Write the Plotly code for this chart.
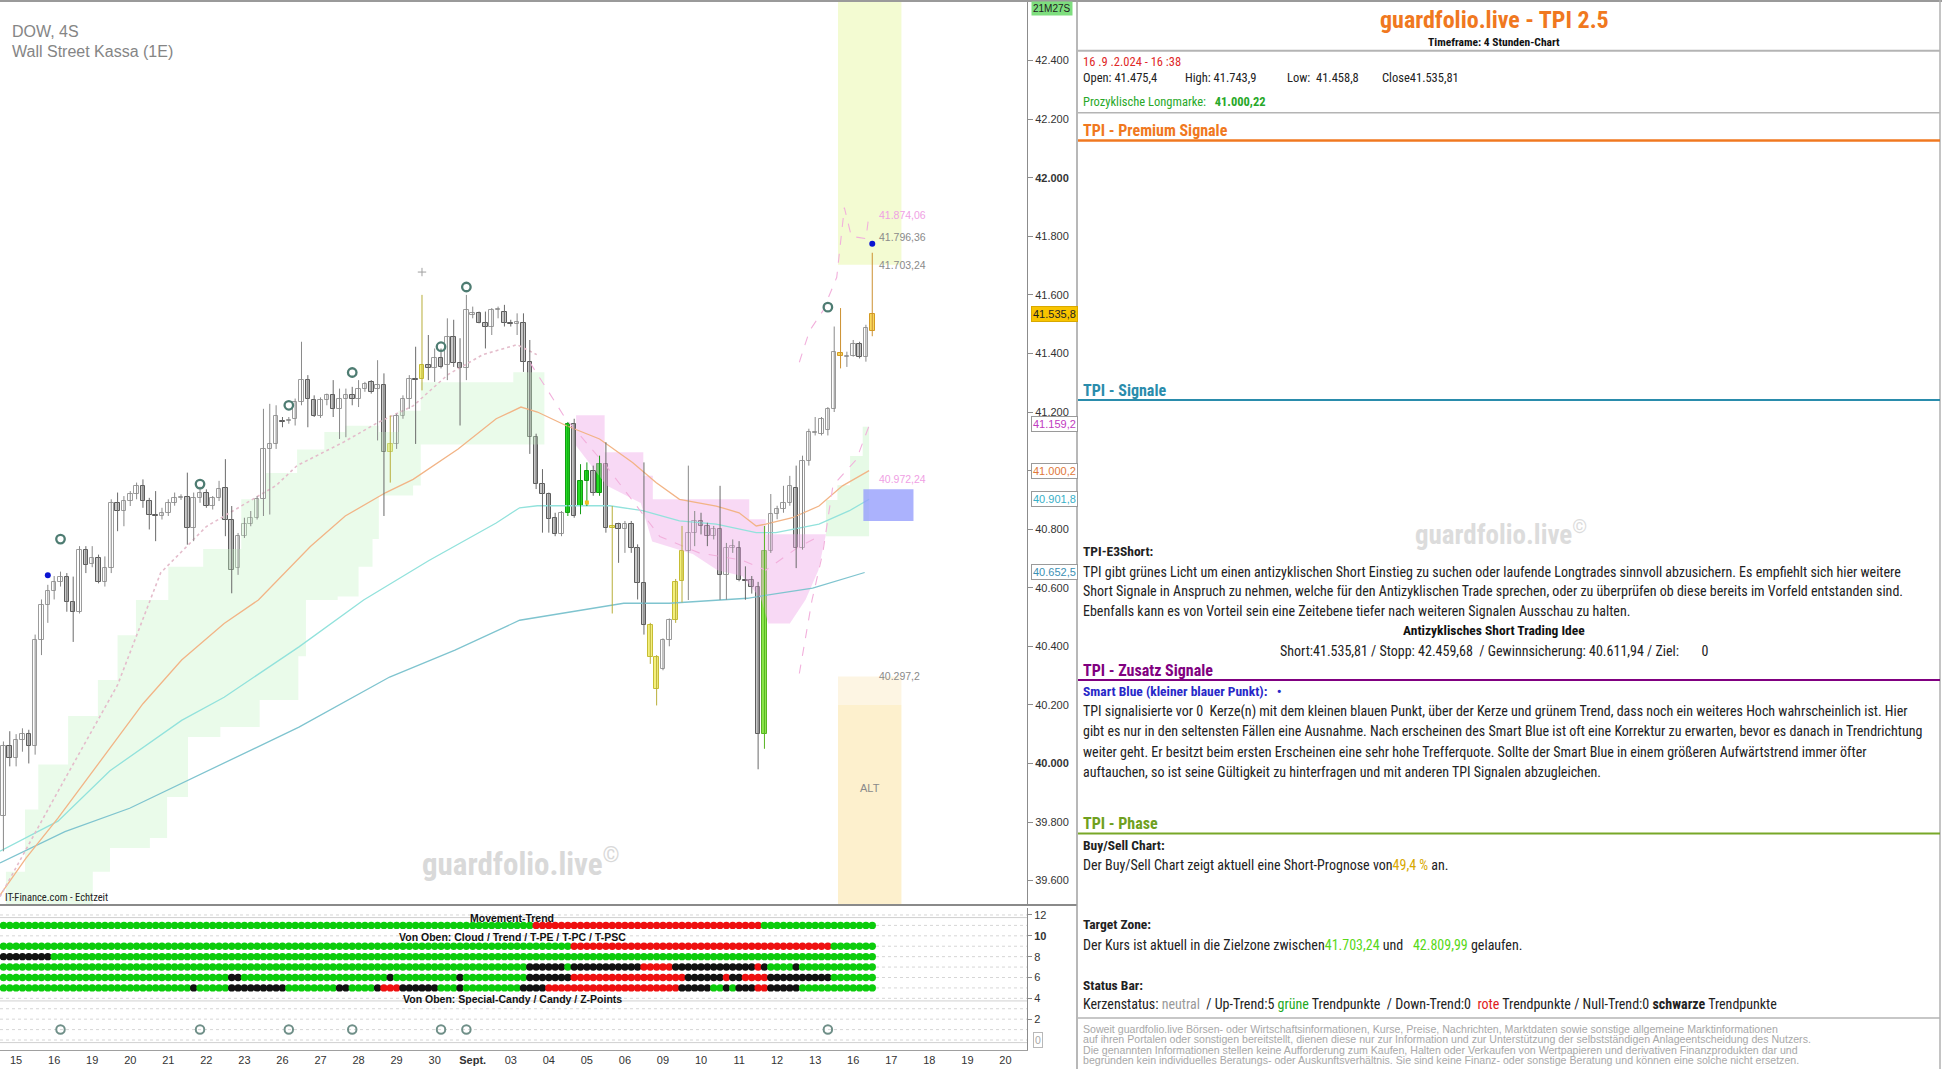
import plotly.graph_objects as go

W, H = 1942, 1069

# ---------------- data ----------------
day_labels = ["15", "16", "19", "20", "21", "22", "23", "26", "27", "28", "29", "30", "Sept.",
              "03", "04", "05", "06", "09", "10", "11", "12", "13", "16", "17", "18", "19", "20"]
candles_per_day = 6
first_slot = -2  # two 4h candles of 14 Aug before the first labelled day

opens = [39820, 40060,
         40020, 40080, 40100, 40060, 40420, 40540,
         40590, 40621, 40638, 40553, 40518, 40730,
         40680, 40700, 40621, 40667, 40890, 40862,
         40896, 40919, 40948, 40896, 40850, 40845,
         40856, 40890, 40907, 40910, 40805, 40907,
         40925, 40879, 40907, 40942, 40833, 40667,
         40776, 40816, 40839, 40902, 41074, 41091,
         41171, 41171, 41177, 41234, 41309, 41240,
         41188, 41240, 41257, 41211, 41246, 41257,
         41246, 41280, 41303, 41280, 41291, 41062,
         41091, 41188, 41246, 41314, 41314, 41362,
         41349, 41383, 41360, 41457, 41366, 41349,
         41532, 41537, 41503, 41492, 41549, 41543,
         41503, 41500, 41503, 41372, 41114, 40954,
         40920, 40839, 40782, 40856, 41160, 40879,
         40965, 41000, 40925, 41022, 40805, 40816,
         40799, 40816, 40736, 40616, 40472, 40364,
         40324, 40421, 40489, 40622, 40725, 40788,
         40828, 40811, 40776, 40799, 40644, 40736,
         40736, 40627, 40627, 40604, 40100, 40725,
         40851, 40868, 40891, 40942, 40736, 41034,
         41128, 41126, 41140, 41211, 41400, 41389,
         41393, 41434, 41389, 41475.4]
highs = [40075, 40110,
         40100, 40120, 40115, 40440, 40560, 40610,
         40640, 40655, 40650, 40638, 40742, 40742,
         40742, 40713, 40707, 40902, 40925, 40913,
         40930, 40959, 40970, 40907, 40930, 40873,
         40902, 40925, 40919, 40993, 40925, 40945,
         40936, 40913, 40965, 41039, 40879, 40787,
         40839, 40862, 40913, 41211, 41228, 41223,
         41183, 41183, 41246, 41440, 41326, 41257,
         41250, 41263, 41309, 41280, 41280, 41286,
         41309, 41303, 41309, 41377, 41332, 41188,
         41194, 41257, 41326, 41423, 41600, 41463,
         41417, 41417, 41520, 41515, 41452, 41600,
         41560, 41543, 41543, 41555, 41560, 41566,
         41515, 41537, 41537, 41446, 41126, 41005,
         40925, 40856, 40862, 41166, 41177, 41022,
         41028, 41017, 41051, 41097, 40879, 40822,
         40828, 40828, 40748, 41028, 40480, 40370,
         40427, 40495, 40630, 40811, 41017, 40862,
         40856, 40822, 40811, 40948, 40753, 40765,
         40759, 40673, 40640, 40620, 40811, 40920,
         40880, 40948, 40982, 41017, 41051, 41143,
         41183, 41183, 41217, 41492, 41555, 41406,
         41446, 41440, 41498, 41743.9]
lows = [39700, 39990,
        39990, 40040, 40000, 40030, 40370, 40480,
        40560, 40604, 40518, 40415, 40512, 40650,
        40670, 40615, 40604, 40650, 40793, 40810,
        40879, 40902, 40873, 40799, 40759, 40833,
        40845, 40880, 40900, 40747, 40759, 40890,
        40873, 40867, 40896, 40776, 40581, 40644,
        40770, 40810, 40833, 40845, 40850, 41074,
        41148, 41160, 41154, 41223, 41148, 41183,
        41180, 41223, 41183, 41108, 41114, 41223,
        41217, 41269, 41263, 41103, 40845, 40959,
        41074, 41177, 41211, 41091, 41274, 41309,
        41303, 41349, 41309, 41354, 41154, 41309,
        41520, 41503, 41417, 41463, 41520, 41492,
        41492, 41463, 41337, 41057, 40937, 40788,
        40788, 40776, 40776, 40845, 40839, 40851,
        40879, 40914, 40914, 40788, 40512, 40685,
        40719, 40719, 40560, 40440, 40340, 40198,
        40318, 40400, 40480, 40550, 40558, 40742,
        40782, 40742, 40765, 40559, 40559, 40719,
        40622, 40559, 40580, 39980, 40050, 40719,
        40834, 40856, 40880, 40667, 40730, 41017,
        41120, 41120, 41120, 41200, 41349, 41354,
        41389, 41383, 41372, 41458.8]
closes = [40060, 40020,
          40080, 40100, 40060, 40420, 40540, 40590,
          40621, 40638, 40553, 40518, 40730, 40679,
          40700, 40621, 40667, 40890, 40862, 40896,
          40919, 40948, 40896, 40850, 40845, 40856,
          40890, 40907, 40910, 40805, 40907, 40925,
          40879, 40907, 40936, 40833, 40662, 40776,
          40816, 40839, 40902, 41074, 41091, 41188,
          41165, 41172, 41234, 41309, 41246, 41188,
          41240, 41257, 41211, 41246, 41257, 41246,
          41280, 41297, 41269, 41291, 41062, 41091,
          41188, 41246, 41314, 41309, 41362, 41349,
          41383, 41354, 41457, 41366, 41349, 41549,
          41537, 41503, 41492, 41549, 41550, 41503,
          41500, 41509, 41372, 41114, 40954, 40920,
          40834, 40782, 40856, 41160, 40845, 40965,
          41000, 40925, 41022, 40805, 40810, 40799,
          40816, 40736, 40616, 40472, 40364, 40255,
          40421, 40489, 40621, 40725, 40788, 40828,
          40811, 40776, 40799, 40644, 40736, 40742,
          40627, 40622, 40604, 40100, 40725, 40851,
          40868, 40891, 40948, 40736, 41034, 41131,
          41131, 41177, 41211, 41406, 41393, 41390,
          41434, 41389, 41486, 41535.81]

yellow_candles = [59, 64, 94, 100, 101, 104, 105]
orange_candles = [130, 135]
green_candles = [87, 89, 90, 92]
lime_candles = [118]

# indicator lines (slot, price)
ma_orange_slot = [-2.54, 1.56, 6.6, 12.9, 20.0, 26.1, 32.8, 38.2, 46.4, 51.9, 58.3, 62.6, 69.7, 75.7,
                  79.6, 82.2, 86.7, 92.0, 97.2, 100.9, 104.6, 110.4, 114.0, 116.7, 118.2, 122.4,
                  126.6, 130.3, 134.5]
ma_orange_val = [39550, 39677, 39813, 39997, 40204, 40353, 40478, 40558, 40741, 40845, 40925, 40970,
                 41074, 41177, 41217, 41200, 41154, 41108, 41028, 40959, 40902, 40879, 40856, 40811,
                 40817, 40839, 40879, 40948, 41000]
ma_cyan_slot = [-2.54, 6.6, 14.8, 26.1, 32.8, 44.6, 54.8, 65.1, 75.7, 79.4, 82.2, 86.7, 93.6, 98.8,
                104.6, 110.4, 116.7, 119.8, 126.6, 131.4, 134.5]
ma_cyan_val = [39700, 39803, 39975, 40147, 40226, 40398, 40558, 40693, 40821, 40873, 40880, 40880,
               40880, 40863, 40828, 40817, 40788, 40788, 40817, 40863, 40902]
ma_teal_slot = [-2.54, 7.7, 17.9, 33.4, 44.6, 58.9, 69.2, 79.4, 89.7, 95.8, 103.0, 110.2, 115.3,
                125.6, 133.8]
ma_teal_val = [39660, 39767, 39847, 40008, 40124, 40295, 40387, 40489, 40524, 40547, 40547, 40558,
               40564, 40599, 40652]
trail_slot = [-2.54, 7.2, 16.0, 22.8, 30.0, 41.0, 44.3, 51.7, 57.2, 62.6, 68.1, 73.6, 79.0, 82.1]
trail_val = [39545, 39928, 40268, 40651, 40809, 40949, 41017, 41098, 41166, 41221, 41328, 41396,
             41430, 41396]
band_mid_slot = [81.0, 86.6, 93.0, 101.5, 107.7, 114.5, 118.2, 123.5, 126.6]
band_mid_val = [41370, 41179, 41017, 40775, 40719, 40694, 40660, 40741, 40775]
band_up_slot = [123.5, 125.1, 127.2, 129.4, 130.6, 131.7, 134.0, 134.5]
band_up_val = [41370, 41477, 41545, 41660, 41898, 41800, 41792, 41877]
band_lo_slot = [123.5, 125.5, 127.2, 128.8, 132.5, 134.5]
band_lo_val = [40307, 40558, 40719, 40949, 41038, 41153]

cloud_g_up_slot = [-2.5, -1.6, 1.4, 3.5, 8.2, 12.9, 16.0, 18.9, 24.0, 29.5, 35.5, 39.4, 44.3, 48.6,
                   51.9, 57.2, 60.3, 63.8, 78.4, 83.3]
cloud_g_up_val = [39500, 39630, 39843, 39996, 40162, 40285, 40438, 40558, 40672, 40732, 40902, 40992,
                  41072, 41132, 41153, 41132, 41204, 41302, 41336, 41336]
cloud_g_lo_slot = [-2.5, 8.8, 12.1, 14.8, 21.1, 23.8, 27.1, 32.2, 38.4, 44.5, 45.7, 50.7, 54.0, 56.2,
                   57.2, 62.6, 63.8, 83.3]
cloud_g_lo_val = [39480, 39480, 39630, 39711, 39745, 39885, 40090, 40124, 40217, 40366, 40558, 40570,
                  40672, 40766, 40915, 40949, 41089, 41089]
cloud_p_up_slot = [88.3, 92.8, 98.3, 98.9, 100.4, 115.6, 118.2, 127.7]
cloud_p_up_val = [41189, 41063, 41063, 40982, 40902, 40834, 40783, 40783]
cloud_p_lo_slot = [88.3, 93.1, 98.5, 100.3, 106.7, 110.6, 114.5, 117.5, 118.6, 122.0, 124.5, 126.5, 127.7]
cloud_p_lo_val = [41085, 40949, 40889, 40758, 40715, 40660, 40640, 40560, 40478, 40478, 40560, 40660, 40783]
cloud_n_up_slot = [127.7, 129.5, 131.5, 133.5, 134.5]
cloud_n_up_val = [40900, 40950, 41050, 41150, 41177]
cloud_n_lo_slot = [127.7, 134.5]
cloud_n_lo_val = [40776, 40776]

zpoint_slots = [7, 29, 43, 53, 67, 71, 128]
zpoint_prices = [40766, 40954, 41223, 41335, 41423, 41627, 41558]
smart_blue_slots = [5, 135]
smart_blue_prices = [40643, 41775]
plus_slot, plus_price = [64], [41678]
small_dot_slot, small_dot_price = [90], [40891]

# target zones
zone_slot_start, zone_slot_end = 129.6, 139.6
zone_upper_low = 41703.24
zone_alt_top, zone_alt_split = 40297.2, 40200
box_slot_start, box_slot_end = 133.6, 141.5
box_low, box_high = 40828, 40936
chart_labels = [(41874.06, "41.874,06", "#f0a0e4"), (41796.36, "41.796,36", "#8a8a8a"),
                (41703.24, "41.703,24", "#8a8a8a"), (40972.24, "40.972,24", "#f0a0e4"),
                (40297.2, "40.297,2", "#8a8a8a")]
axis_labels = [(41535.8, "41.535,8", "#f8c400", "#222222", "#d8a800"),
               (41159.2, "41.159,2", "#ffffff", "#c03cc0", "#9a9a9a"),
               (41000.2, "41.000,2", "#ffffff", "#e07838", "#9a9a9a"),
               (40901.8, "40.901,8", "#ffffff", "#38b0c8", "#9a9a9a"),
               (40652.5, "40.652,5", "#ffffff", "#3c90b4", "#9a9a9a")]

price_ticks = [39600, 39800, 40000, 40200, 40400, 40600, 40800, 41000, 41200, 41400, 41600, 41800,
               42000, 42200, 42400]
# 41.000 is hidden under the 41.000,2 marker box in the original
price_tick_text = ["39.600", "39.800", "<b>40.000</b>", "40.200", "40.400", "40.600", "40.800",
                   "", "41.200", "41.400", "41.600", "41.800", "<b>42.000</b>", "42.200", "42.400"]

# status-bar rows (run lengths of colours per candle, g=green r=red k=black)
row_levels = [11, 9, 8, 7, 6, 5]
row_runs = [
    [("g", 84), ("r", 36), ("g", 18)],
    [("g", 90), ("r", 41), ("g", 7)],
    [("k", 8), ("g", 130)],
    [("g", 83), ("k", 6), ("g", 1), ("k", 11), ("r", 5), ("k", 13), ("r", 1), ("k", 1), ("g", 4),
     ("k", 1), ("g", 12)],
    [("g", 36), ("k", 2), ("g", 23), ("k", 1), ("g", 10), ("k", 1), ("g", 10), ("k", 7), ("r", 18),
     ("k", 6), ("r", 1), ("k", 2), ("r", 4), ("k", 10), ("g", 7)],
    [("g", 30), ("k", 1), ("g", 5), ("k", 9), ("g", 8), ("k", 2), ("g", 4), ("k", 1), ("r", 3),
     ("k", 6), ("g", 3), ("k", 1), ("g", 9), ("k", 4), ("r", 21), ("k", 5), ("g", 2), ("k", 1),
     ("g", 1), ("k", 3), ("r", 2), ("k", 5), ("g", 12)],
]

# ---------------- figure ----------------
ARIAL = "Liberation Sans, Arial, sans-serif"
NARROW = "Liberation Sans Narrow, Arial Narrow, Roboto Condensed, Liberation Sans, sans-serif"
X_RANGE = [-2.54, 159.4]
Y_RANGE = [39520, 42607]
Y2_RANGE = [-0.96, 12.67]

fig = go.Figure()


def band(lx, ly, ux, uy, color, shape_lo, shape_up):
    fig.add_trace(go.Scatter(x=lx, y=ly, mode="lines", line=dict(width=0, shape=shape_lo),
                             hoverinfo="skip", showlegend=False))
    fig.add_trace(go.Scatter(x=ux, y=uy, mode="lines", line=dict(width=0, shape=shape_up),
                             fill="tonexty", fillcolor=color, hoverinfo="skip", showlegend=False))


band(cloud_g_lo_slot, cloud_g_lo_val, cloud_g_up_slot, cloud_g_up_val, "rgba(200,245,200,0.38)", "hv", "hv")
band(cloud_p_lo_slot, cloud_p_lo_val, cloud_p_up_slot, cloud_p_up_val, "rgba(240,170,232,0.45)", "linear", "hv")
band(cloud_n_lo_slot, cloud_n_lo_val, cloud_n_up_slot, cloud_n_up_val, "rgba(200,245,200,0.45)", "hv", "hv")


def line(xs, ys, color, width=1.2, dash="solid"):
    fig.add_trace(go.Scatter(x=xs, y=ys, mode="lines", line=dict(color=color, width=width, dash=dash),
                             hoverinfo="skip", showlegend=False))


line(ma_teal_slot, ma_teal_val, "#7fc4cf", 1.3)
line(ma_cyan_slot, ma_cyan_val, "#92e2dc", 1.3)
line(ma_orange_slot, ma_orange_val, "#f2b486", 1.3)
line(trail_slot, trail_val, "#e4bccb", 1.6, "dot")
line(band_mid_slot, band_mid_val, "#f2b0dc", 1.1, "dash")
line(band_up_slot, band_up_val, "#f2b0dc", 1.1, "dash")
line(band_lo_slot, band_lo_val, "#f2b0dc", 1.1, "dash")

# candles
slots = list(range(first_slot, first_slot + len(opens)))
style_of = {}
for s in yellow_candles:
    style_of[s] = "y"
for s in orange_candles:
    style_of[s] = "o"
for s in green_candles:
    style_of[s] = "g"
for s in lime_candles:
    style_of[s] = "l"
fills = {"up": "#ffffff", "dn": "#c9c9c9", "y": "#f4f07c", "o": "#f8d85c", "g": "#22dd22", "l": "#8ae64a"}
edges = {"up": "#9c9c9c", "dn": "#5c5c5c", "y": "#c6bd34", "o": "#d49a22", "g": "#139b13", "l": "#58b422"}
wick_col = {"up": "#8a8a8a", "dn": "#6a6a6a", "y": "#b8ae3a", "o": "#cc9030", "g": "#139b13", "l": "#58b422"}
wicks = {k: ([], []) for k in wick_col}
bases, heights, fc, lc = [], [], [], []
for s, o, h, l, c in zip(slots, opens, highs, lows, closes):
    st = style_of.get(s, "up" if c >= o else "dn")
    wicks[st][0].extend([s, s, None])
    wicks[st][1].extend([l, h, None])
    bases.append(min(o, c))
    heights.append(max(abs(c - o), 3))
    fc.append(fills[st])
    lc.append(edges[st])
for st, (wx, wy) in wicks.items():
    if wx:
        fig.add_trace(go.Scatter(x=wx, y=wy, mode="lines", line=dict(color=wick_col[st], width=1),
                                 hoverinfo="skip", showlegend=False))
fig.add_trace(go.Bar(x=slots, y=heights, base=bases, width=0.72,
                     marker=dict(color=fc, line=dict(color=lc, width=1)), hoverinfo="skip",
                     showlegend=False))

# markers on price chart
fig.add_trace(go.Scatter(x=zpoint_slots, y=zpoint_prices, mode="markers",
                         marker=dict(symbol="circle-open", size=8.5, color="#4e7c72", line=dict(width=2.3)),
                         hoverinfo="skip", showlegend=False))
fig.add_trace(go.Scatter(x=smart_blue_slots, y=smart_blue_prices, mode="markers",
                         marker=dict(size=6, color="#0a14d2"), hoverinfo="skip", showlegend=False))
fig.add_trace(go.Scatter(x=plus_slot, y=plus_price, mode="markers",
                         marker=dict(symbol="cross-thin-open", size=6, color="#a0a0a0", line=dict(width=1)),
                         hoverinfo="skip", showlegend=False))
fig.add_trace(go.Scatter(x=small_dot_slot, y=small_dot_price, mode="markers",
                         marker=dict(symbol="square", size=4, color="#f0c020"), hoverinfo="skip",
                         showlegend=False))

# status-bar dots (indicator panel)
dot_colors = {"g": "#0ccc0c", "r": "#ee1010", "k": "#111111"}
for lvl, runs in zip(row_levels, row_runs):
    cols = []
    for code, n in runs:
        cols.extend([dot_colors[code]] * n)
    fig.add_trace(go.Scatter(x=slots[:len(cols)], y=[lvl] * len(cols), mode="markers",
                             marker=dict(size=7.4, color=cols), xaxis="x2", yaxis="y2",
                             hoverinfo="skip", showlegend=False))
fig.add_trace(go.Scatter(x=zpoint_slots, y=[1] * len(zpoint_slots), mode="markers",
                         marker=dict(symbol="circle-open", size=8.5, color="#6f8f88", line=dict(width=2)),
                         xaxis="x2", yaxis="y2", hoverinfo="skip", showlegend=False))


def fx(p):
    return p / W


def fy(p):
    return 1 - p / H


shapes = []
# target zones
shapes.append(dict(type="rect", xref="x", yref="y", x0=zone_slot_start, x1=zone_slot_end,
                   y0=zone_upper_low, y1=Y_RANGE[1], fillcolor="#f3fbd2", line=dict(width=0), layer="below"))
shapes.append(dict(type="rect", xref="x", yref="y", x0=zone_slot_start, x1=zone_slot_end,
                   y0=zone_alt_split, y1=zone_alt_top, fillcolor="#fdf5e3", line=dict(width=0), layer="below"))
shapes.append(dict(type="rect", xref="x", yref="y", x0=zone_slot_start, x1=zone_slot_end,
                   y0=Y_RANGE[0], y1=zone_alt_split, fillcolor="#fdf0cd", line=dict(width=0), layer="below"))
shapes.append(dict(type="rect", xref="x", yref="y", x0=box_slot_start, x1=box_slot_end,
                   y0=box_low, y1=box_high, fillcolor="rgba(148,156,252,0.78)", line=dict(width=0), layer="above"))
# indicator grid
for v in range(0, 13):
    shapes.append(dict(type="line", xref="x2 domain", yref="y2", x0=0, x1=1, y0=v, y1=v,
                       line=dict(color="#d6d6d6", width=1, dash="dot"), layer="below"))
for v in [12, 4, 0]:
    shapes.append(dict(type="line", xref="x2 domain", yref="y2", x0=0, x1=1, y0=v - 0.25, y1=v - 0.25,
                       line=dict(color="#d0d0d0", width=1), layer="below"))
# frame lines
shapes.append(dict(type="line", xref="paper", yref="paper", x0=0, x1=1, y0=fy(1), y1=fy(1),
                   line=dict(color="#9a9a9a", width=2)))
shapes.append(dict(type="line", xref="paper", yref="paper", x0=0, x1=fx(1077), y0=fy(905), y1=fy(905),
                   line=dict(color="#8a8a8a", width=2)))
shapes.append(dict(type="line", xref="paper", yref="paper", x0=fx(1077), x1=fx(1077), y0=0, y1=1,
                   line=dict(color="#a0a0a0", width=1.5)))
shapes.append(dict(type="line", xref="paper", yref="paper", x0=fx(1940), x1=fx(1940), y0=0, y1=1,
                   line=dict(color="#b0b0b0", width=1.5)))
# right panel separators
for yy, col, wdt in [(50.8, "#b4b4b4", 2), (112.7, "#b4b4b4", 1.5), (140.5, "#f07820", 2.5),
                     (400, "#2a8cac", 1.8), (680, "#800080", 2.2), (833.5, "#78a828", 2.2),
                     (1018, "#b4b4b4", 1.5)]:
    shapes.append(dict(type="line", xref="paper", yref="paper", x0=fx(1078), x1=fx(1940), y0=fy(yy), y1=fy(yy),
                       line=dict(color=col, width=wdt)))

ann = []


def txt(x, y, text, size=14, color="#222222", family=NARROW, anchor="left", xref="paper", yref="paper", **kw):
    d = dict(x=x, y=y, xref=xref, yref=yref, text=text, showarrow=False, xanchor=anchor, yanchor="middle",
             font=dict(size=size, color=color, family=family))
    d.update(kw)
    ann.append(d)


# chart texts
txt(fx(10), fy(31), "DOW, 4S", 16, "#858585", ARIAL)
txt(fx(10), fy(52), "Wall Street Kassa (1E)", 16, "#858585", ARIAL)
txt(fx(3), fy(897), "IT-Finance.com - Echtzeit", 10.5, "#222222", NARROW)
txt(fx(521), fy(862), "<b>guardfolio.live</b><sup>©</sup>", 31, "#d9d9d9", NARROW, "center")
for val, label, col in chart_labels:
    txt(135.7, val, label, 10.5, col, ARIAL, "left", "x", "y")
txt(134.6, 39915, "ALT", 11, "#8a8a8a", ARIAL, "center", "x", "y")
for val, label, bg, fc_, bc in axis_labels:
    txt(fx(1031), val, label, 11, fc_, ARIAL, "left", "paper", "y", bgcolor=bg, bordercolor=bc,
        borderwidth=1, borderpad=1)
txt(fx(1031), fy(8.5), "21M27S", 10, "#222222", ARIAL, "left", bgcolor="#7ede7e", borderpad=1)
txt(fx(1033), 0, "0", 10.5, "#a8a8a8", ARIAL, "left", "paper", "y2", bordercolor="#b8b8b8",
    borderwidth=1, borderpad=1)
# indicator texts
txt(78.2, 11.75, "<b>Movement-Trend</b>", 10.5, "#111111", ARIAL, "center", "x2", "y2")
txt(78.2, 9.85, "<b>Von Oben: Cloud / Trend / T-PE / T-PC / T-PSC</b>", 10.5, "#111111", ARIAL, "center", "x2", "y2")
txt(78.2, 3.9, "<b>Von Oben: Special-Candy / Candy / Z-Points</b>", 10.5, "#111111", ARIAL, "center", "x2", "y2")

# right panel
NB = "\u00a0"
LX = 1081
CX = 1494
txt(fx(CX), fy(20), "<b>guardfolio.live - TPI 2.5</b>", 24, "#f07820", NARROW, "center")
txt(fx(CX), fy(41.5), "<b>Timeframe: 4 Stunden-Chart</b>", 11.5, "#111111", NARROW, "center")
txt(fx(LX), fy(61), "16 .9 .2.024 - 16 :38", 12.5, "#e02828")
txt(fx(LX), fy(77), "Open: 41.475,4", 12.5, "#222222")
txt(fx(1183), fy(77), "High: 41.743,9", 12.5, "#222222")
txt(fx(1285), fy(77), "Low:" + NB + NB + "41.458,8", 12.5, "#222222")
txt(fx(1380), fy(77), "Close41.535,81", 12.5, "#222222")
txt(fx(LX), fy(101.6), "Prozyklische Longmarke:" + NB * 3 + "<b>41.000,22</b>", 12.5, "#28a828")
txt(fx(LX), fy(130), "<b>TPI - Premium Signale</b>", 16, "#f07820")
txt(fx(LX), fy(390), "<b>TPI - Signale</b>", 16, "#2a8cac")
txt(fx(1501), fy(533), "<b>guardfolio.live</b><sup>©</sup>", 27, "#dcdcdc", NARROW, "center")
txt(fx(LX), fy(551), "<b>TPI-E3Short:</b>", 13.5)
para1 = ["TPI gibt grünes Licht um einen antizyklischen Short Einstieg zu suchen oder laufende Longtrades sinnvoll abzusichern. Es empfiehlt sich hier weitere",
         "Short Signale in Anspruch zu nehmen, welche für den Antizyklischen Trade sprechen, oder zu überprüfen ob diese bereits im Vorfeld entstanden sind.",
         "Ebenfalls kann es von Vorteil sein eine Zeitebene tiefer nach weiteren Signalen Ausschau zu halten."]
for yy, t in zip([572, 591, 610.6], para1):
    txt(fx(LX), fy(yy), t, 14)
txt(fx(CX), fy(630.4), "<b>Antizyklisches Short Trading Idee</b>", 13.5, "#111111", NARROW, "center")
txt(fx(CX), fy(651), "Short:41.535,81 / Stopp: 42.459,68" + NB + NB + "/ Gewinnsicherung: 40.611,94 / Ziel:" + NB * 7 + "0",
    14, "#222222", NARROW, "center")
txt(fx(LX), fy(670), "<b>TPI - Zusatz Signale</b>", 16, "#800080")
txt(fx(LX), fy(691), "<b>Smart Blue (kleiner blauer Punkt):" + NB * 3 + "•</b>", 13.5, "#2828c8")
para2 = ["TPI signalisierte vor 0" + NB + NB + "Kerze(n) mit dem kleinen blauen Punkt, über der Kerze und grünem Trend, dass noch ein weiteres Hoch wahrscheinlich ist. Hier",
         "gibt es nur in den seltensten Fällen eine Ausnahme. Nach erscheinen des Smart Blue ist oft eine Korrektur zu erwarten, bevor es danach in Trendrichtung",
         "weiter geht. Er besitzt beim ersten Erscheinen eine sehr hohe Trefferquote. Sollte der Smart Blue in einem größeren Aufwärtstrend immer öfter",
         "auftauchen, so ist seine Gültigkeit zu hinterfragen und mit anderen TPI Signalen abzugleichen."]
for yy, t in zip([711, 731, 751.5, 771.5], para2):
    txt(fx(LX), fy(yy), t, 14)
txt(fx(LX), fy(823.6), "<b>TPI - Phase</b>", 16, "#6fa020")
txt(fx(LX), fy(844.7), "<b>Buy/Sell Chart:</b>", 13.5)
txt(fx(LX), fy(864.5), "Der Buy/Sell Chart zeigt aktuell eine Short-Prognose von<span style='color:#d8a800'>49,4 %</span> an.", 14)
txt(fx(LX), fy(924), "<b>Target Zone:</b>", 13.5)
txt(fx(LX), fy(945), "Der Kurs ist aktuell in die Zielzone zwischen<span style='color:#58d818'>41.703,24</span> und"
    + NB * 3 + "<span style='color:#58d818'>42.809,99</span> gelaufen.", 14)
txt(fx(LX), fy(984.6), "<b>Status Bar:</b>", 13.5)
txt(fx(LX), fy(1004.4), "Kerzenstatus: <span style='color:#9a9a9a'>neutral</span>" + NB + NB
    + "/ Up-Trend:5 <span style='color:#22a822'>grüne</span> Trendpunkte" + NB + NB
    + "/ Down-Trend:0" + NB + NB + "<span style='color:#e02020'>rote</span> Trendpunkte / Null-Trend:0 <b>schwarze</b> Trendpunkte", 14)
disc = ["Soweit guardfolio.live Börsen- oder Wirtschaftsinformationen, Kurse, Preise, Nachrichten, Marktdaten sowie sonstige allgemeine Marktinformationen",
        "auf ihren Portalen oder sonstigen bereitstellt, dienen diese nur zur Information und zur Unterstützung der selbstständigen Anlageentscheidung des Nutzers.",
        "Die genannten Informationen stellen keine Aufforderung zum Kaufen, Halten oder Verkaufen von Wertpapieren und derivativen Finanzprodukten dar und",
        "begründen kein individuelles Beratungs- oder Auskunftsverhältnis. Sie sind keine Finanz- oder sonstige Beratung und können eine solche nicht ersetzen."]
for yy, t in zip([1029, 1039.3, 1049.6, 1060], disc):
    txt(fx(LX), fy(yy), t, 10.6, "#a8a8a8", ARIAL)

fig.update_layout(
    width=W, height=H, margin=dict(l=0, r=0, t=0, b=0), paper_bgcolor="white", plot_bgcolor="white",
    showlegend=False, barmode="overlay", bargap=0, hovermode=False,
    xaxis=dict(domain=[0, fx(1027)], range=X_RANGE, showticklabels=False, showgrid=False, zeroline=False,
               fixedrange=True),
    yaxis=dict(domain=[fy(904), 1], range=Y_RANGE, side="right", showgrid=False, zeroline=False,
               showline=True, linecolor="#8c8c8c", ticks="outside", ticklen=5, tickcolor="#8c8c8c",
               tickvals=price_ticks, ticktext=price_tick_text,
               tickfont=dict(size=11, color="#333333", family=ARIAL)),
    xaxis2=dict(domain=[0, fx(1027)], range=X_RANGE, anchor="y2", showgrid=False, zeroline=False,
                showline=True, linecolor="#a0a0a0", ticks="",
                tickvals=[d * candles_per_day for d in range(len(day_labels))],
                ticktext=[("<b>%s</b>" % t) if t == "Sept." else t for t in day_labels],
                tickfont=dict(size=11, color="#333333", family=ARIAL)),
    yaxis2=dict(domain=[fy(1050), fy(908)], range=Y2_RANGE, anchor="x2", side="right", showgrid=False,
                zeroline=False, showline=True, linecolor="#8c8c8c", ticks="outside", ticklen=4,
                tickcolor="#8c8c8c", tickvals=[2, 4, 6, 8, 10, 12],
                ticktext=["2", "4", "6", "8", "<b>10</b>", "12"],
                tickfont=dict(size=11, color="#333333", family=ARIAL)),
    shapes=shapes, annotations=ann,
)

fig.write_html("out.html", config={"displayModeBar": False},
               post_script="document.body.style.margin='0px';document.body.style.overflow='hidden';")
